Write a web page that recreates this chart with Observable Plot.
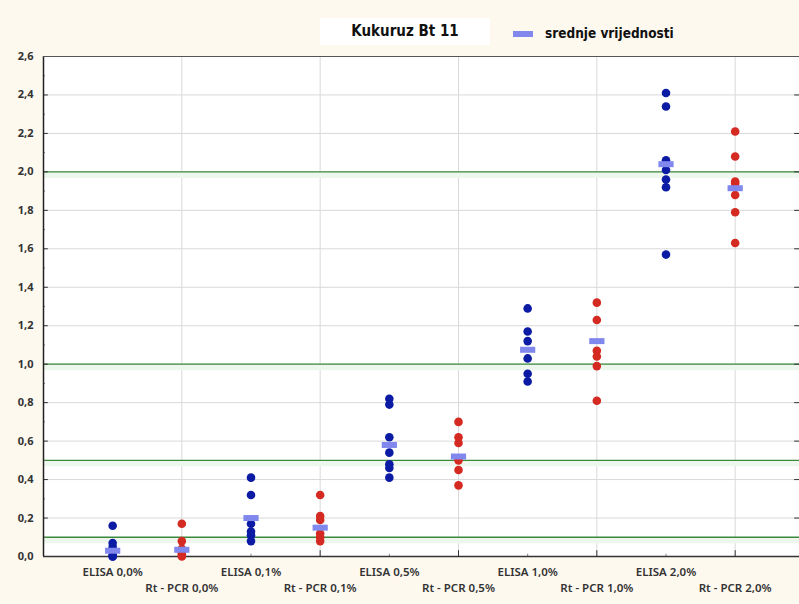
<!DOCTYPE html>
<html>
<head>
<meta charset="utf-8">
<script src="https://cdn.jsdelivr.net/npm/d3@7"></script>
<script src="https://cdn.jsdelivr.net/npm/@observablehq/plot@0.6"></script>
<style>
  html, body { margin: 0; padding: 0; background: #fdf9ef; width: 799px; height: 604px; overflow: hidden; }
  #header { position: relative; height: 46px; width: 799px; }
  #title { position: absolute; left: 320px; top: 18px; width: 170px; height: 27px; background: #ffffff;
           font: bold 15px "Liberation Sans Narrow", "DejaVu Sans Condensed", sans-serif; font-stretch: condensed; color: #111;
           text-align: center; line-height: 27px; }
  #swatch { position: absolute; left: 513px; top: 31px; width: 20px; height: 6px; background: #8088ee; }
  #legtext { position: absolute; left: 545px; top: 25px; line-height: 18px;
             font: bold 13.5px "Liberation Sans Narrow", "DejaVu Sans Condensed", sans-serif; font-stretch: condensed; color: #111; }
  svg { display: block; }
</style>
</head>
<body>
<div id="header">
  <div id="title">Kukuruz Bt 11</div>
  <div id="swatch"></div>
  <div id="legtext">srednje vrijednosti</div>
</div>
<div id="chart"></div>
<script>
// Categories (x order)
const categories = ["ELISA 0,0%", "Rt - PCR 0,0%", "ELISA 0,1%", "Rt - PCR 0,1%", "ELISA 0,5%",
                    "Rt - PCR 0,5%", "ELISA 1,0%", "Rt - PCR 1,0%", "ELISA 2,0%", "Rt - PCR 2,0%"];
const methods = ["ELISA", "Rt-PCR", "ELISA", "Rt-PCR", "ELISA", "Rt-PCR", "ELISA", "Rt-PCR", "ELISA", "Rt-PCR"];

// Measured values per category
const elisa00 = [0.16, 0.07, 0.05, 0.01, 0.0, 0.0];
const pcr00   = [0.17, 0.08, 0.04, 0.02, 0.01, 0.0];
const elisa01 = [0.41, 0.32, 0.17, 0.13, 0.11, 0.08];
const pcr01   = [0.32, 0.21, 0.19, 0.12, 0.10, 0.08];
const elisa05 = [0.82, 0.79, 0.62, 0.54, 0.48, 0.46, 0.41];
const pcr05   = [0.70, 0.62, 0.59, 0.50, 0.45, 0.37];
const elisa10 = [1.29, 1.17, 1.12, 1.03, 0.95, 0.91];
const pcr10   = [1.32, 1.23, 1.07, 1.04, 0.99, 0.81];
const elisa20 = [2.41, 2.34, 2.06, 2.01, 1.96, 1.92, 1.57];
const pcr20   = [2.21, 2.08, 1.95, 1.94, 1.88, 1.79, 1.63];
const groups = [elisa00, pcr00, elisa01, pcr01, elisa05, pcr05, elisa10, pcr10, elisa20, pcr20];

// Mean values (srednje vrijednosti)
const means = [0.03, 0.035, 0.20, 0.15, 0.58, 0.52, 1.075, 1.12, 2.04, 1.915];

// Axis ticks
const yTicks = [0, 0.2, 0.4, 0.6, 0.8, 1.0, 1.2, 1.4, 1.6, 1.8, 2.0, 2.2, 2.4, 2.6];
const yTickLabels = ["0,0", "0,2", "0,4", "0,6", "0,8", "1,0", "1,2", "1,4", "1,6", "1,8", "2,0", "2,2", "2,4", "2,6"];
const yMinor = [0.1, 0.3, 0.5, 0.7, 0.9, 1.1, 1.3, 1.5, 1.7, 1.9, 2.1, 2.3, 2.5];
const greenLines = [0.1, 0.5, 1.0, 2.0];

const points = groups.flatMap((vals, i) => vals.map(v => ({i, method: methods[i], value: v})));
const meanRows = means.map((m, i) => ({i, m}));
const elisaIdx = [0, 2, 4, 6, 8];
const pcrIdx = [1, 3, 5, 7, 9];
const gridY = yTicks.filter(t => t > 0 && t < 2.6);

const tickFont = '"Noto Sans", "Open Sans", sans-serif';

const chart = Plot.plot({
  width: 799,
  height: 558,
  marginTop: 10,
  marginBottom: 48,
  marginLeft: 43,
  marginRight: 0,
  style: {background: "transparent", overflow: "visible"},
  x: {domain: [-1, 9.93], axis: null},
  y: {domain: [0, 2.6], axis: null},
  color: {domain: ["ELISA", "Rt-PCR"], range: ["#0b1ba3", "#d42a22"]},
  marks: [
    Plot.frame({fill: "#ffffff", stroke: null}),
    Plot.ruleY(gridY, {stroke: "#d9d9d9", strokeWidth: 1}),
    Plot.ruleX(pcrIdx, {stroke: "#d9d9d9", strokeWidth: 1}),
    Plot.ruleY(greenLines, {stroke: "#eef7ee", strokeWidth: 6, dy: 3}),
    Plot.ruleY(greenLines, {stroke: "#3b8a3b", strokeWidth: 1.3}),
    // tick marks
    Plot.ruleY(yTicks, {x1: -1, x2: -0.93, stroke: "#333", strokeWidth: 1}),
    Plot.ruleY(yMinor, {x1: -1, x2: -0.97, stroke: "#888", strokeWidth: 1}),
    Plot.ruleY(yTicks, {x1: 9.86, x2: 9.93, stroke: "#333", strokeWidth: 1}),
    Plot.ruleX(pcrIdx, {y1: 0, y2: 0.03, stroke: "#333", strokeWidth: 1}),
    Plot.ruleX(elisaIdx, {y1: 0, y2: 0.012, stroke: "#888", strokeWidth: 1}),
    // frame lines
    Plot.ruleX([-1], {stroke: "#222", strokeWidth: 1.5}),
    Plot.ruleY([0], {stroke: "#333", strokeWidth: 1.5}),
    Plot.ruleY([2.6], {stroke: "#555", strokeWidth: 1.2}),
    // data
    Plot.dot(points, {x: "i", y: "value", fill: "method", r: 4.3, stroke: null}),
    Plot.link(meanRows, {x1: d => d.i - 0.11, x2: d => d.i + 0.11, y1: "m", y2: "m",
                         stroke: "#8088ee", strokeWidth: 6, strokeLinecap: "butt"}),
    // axes
    Plot.axisY(yTicks, {tickFormat: (d, k) => yTickLabels[k], tickSize: 0, tickPadding: 10, label: null,
                        fontSize: 11, fontWeight: "bold", fill: "#333", fontFamily: tickFont}),
    Plot.axisX(elisaIdx, {tickFormat: d => categories[d], tickSize: 0, tickPadding: 11, label: null,
                          fontSize: 11.5, fontWeight: 600, fill: "#333", fontFamily: tickFont}),
    Plot.axisX(pcrIdx, {tickFormat: d => categories[d], tickSize: 0, tickPadding: 27, label: null,
                        fontSize: 11.5, fontWeight: 600, fill: "#333", fontFamily: tickFont})
  ]
});
document.getElementById("chart").appendChild(chart);
</script>
</body>
</html>
